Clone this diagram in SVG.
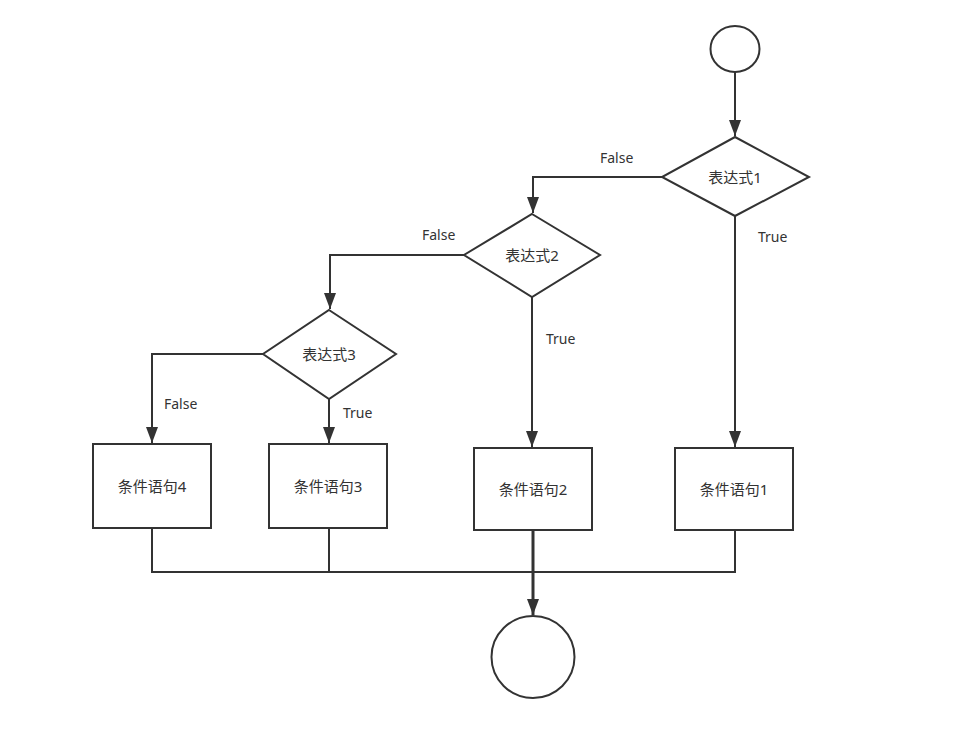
<svg xmlns="http://www.w3.org/2000/svg" width="965" height="750" viewBox="0 0 965 750">
<style>
.shape{fill:#fff;stroke:#333;stroke-width:2}
.edge{fill:none;stroke:#333;stroke-width:2}
.lbl{font-family:"Noto Sans","Noto Sans CJK SC",sans-serif;font-size:14px;fill:#333}
.txt{font-family:"Noto Sans","Noto Sans CJK SC",sans-serif;font-size:15px;fill:#333;text-anchor:middle;dominant-baseline:central}
</style>
<defs>
<marker id="arr" markerUnits="userSpaceOnUse" markerWidth="12" markerHeight="16" viewBox="0 0 12 16" refX="6" refY="16" orient="auto-start-reverse">
<path d="M0,0 L12,0 L6,16 Z" fill="#333" transform="rotate(0)"/>
</marker>
<marker id="arrow" markerUnits="userSpaceOnUse" markerWidth="16" markerHeight="12" viewBox="0 0 16 12" refX="16" refY="6" orient="auto">
<path d="M0,0 L16,6 L0,12 Z" fill="#333"/>
</marker>
</defs>
<rect width="965" height="750" fill="#fff"/>
<g id="connectors">
<path class="edge" d="M735,72 V136" marker-end="url(#arrow)"/>
<path class="edge" d="M662,177 H533 V213" marker-end="url(#arrow)"/>
<path class="edge" d="M735,216 V447" marker-end="url(#arrow)"/>
<path class="edge" d="M464,255 H330 V309" marker-end="url(#arrow)"/>
<path class="edge" d="M532,297 V447" marker-end="url(#arrow)"/>
<path class="edge" d="M263,354 H152 V443" marker-end="url(#arrow)"/>
<path class="edge" d="M329,399 V443" marker-end="url(#arrow)"/>
<path class="edge" d="M152,528 V572 H735 V530"/>
<path class="edge" d="M329,528 V572"/>
<path class="edge" style="stroke-width:3" d="M533,530 V615" marker-end="url(#arrow)"/>
<text class="lbl" x="600" y="163">False</text>
<text class="lbl" x="758" y="242">True</text>
<text class="lbl" x="422" y="240">False</text>
<text class="lbl" x="546" y="344">True</text>
<text class="lbl" x="164" y="409">False</text>
<text class="lbl" x="343" y="418">True</text>
</g>
<g id="start"><ellipse class="shape" cx="735" cy="49" rx="24.5" ry="23"/></g>
<g id="cond1"><polygon class="shape" points="735,137 809,177 735,216 662,177"/><text class="txt" x="735" y="177">表达式1</text></g>
<g id="cond2"><polygon class="shape" points="532,214 600,255 532,297 464,255"/><text class="txt" x="532" y="255">表达式2</text></g>
<g id="cond3"><polygon class="shape" points="329,310 396,354 329,399 263,354"/><text class="txt" x="329" y="354">表达式3</text></g>
<g id="stmt4"><rect class="shape" x="93" y="444" width="118" height="84"/><text class="txt" x="152" y="486">条件语句4</text></g>
<g id="stmt3"><rect class="shape" x="269" y="444" width="118" height="84"/><text class="txt" x="328" y="486">条件语句3</text></g>
<g id="stmt2"><rect class="shape" x="474" y="448" width="118" height="82"/><text class="txt" x="533" y="489">条件语句2</text></g>
<g id="stmt1"><rect class="shape" x="675" y="448" width="118" height="82"/><text class="txt" x="734" y="489">条件语句1</text></g>
<g id="end"><ellipse class="shape" cx="533" cy="657" rx="41.5" ry="41"/></g>
</svg>
